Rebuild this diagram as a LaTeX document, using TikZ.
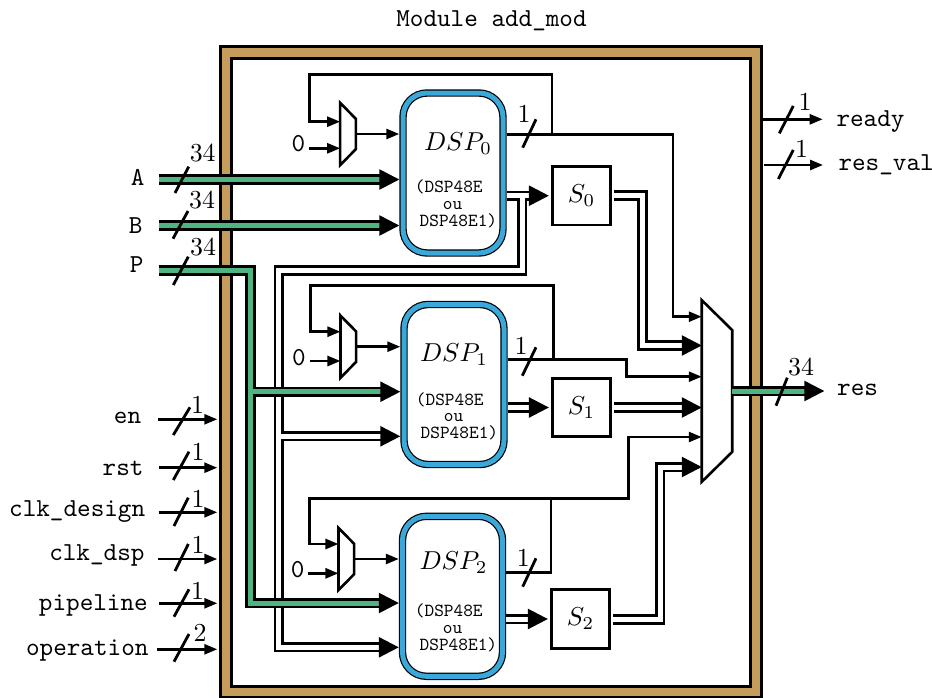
\documentclass[tikz,border=0pt]{standalone}
\usepackage{tikz}
\usetikzlibrary{arrows.meta}
\definecolor{framebrown}{HTML}{C69C5C}
\definecolor{busgreen}{HTML}{4FB47F}
\definecolor{dspblue}{HTML}{3AA9D9}
\tikzset{
  txt/.style={inner sep=0pt,scale=2.6},
  port/.style={inner sep=0pt,scale=2.6,font=\ttfamily},
  tiny/.style={inner sep=0pt,scale=1.85,font=\ttfamily,align=left},
  wire/.style={line width=2.6bp},
  wirearrow/.style={wire,-{Triangle[length=13bp,width=10bp]}},
  slash/.style={line width=2.8bp},
  bus/.style={line width=2.6bp,double=white,double distance=5bp,-{Triangle[length=20bp,width=20bp]}},
  greenbus/.style={bus,double=busgreen},
  dsp/.style={draw,fill=white,rounded corners=24bp,line width=1.2bp,double=dspblue,double distance=5bp,outer sep=3.7bp,minimum width=100bp,minimum height=160bp},
  block/.style={draw,fill=white,line width=2.6bp,minimum width=22.5bp,minimum height=22.5bp,inner sep=0pt,scale=2.6},
  muxbox/.style={inner sep=0pt,outer sep=0pt},
  smallmux/.style={muxbox,minimum width=15.7bp,minimum height=62.3bp},
  muxline/.style={draw,fill=white,line width=2.6bp,line join=miter}
}
\begin{document}
\begin{tikzpicture}
\useasboundingbox (0bp,0bp) rectangle (932bp,-698bp);

\node (FRAME) at (490.75bp,-371.5bp)[draw,fill=framebrown,line width=3bp,minimum width=540.5bp,minimum height=651bp] {};
\node (INNER) at (491bp,-372.25bp)[draw,fill=white,line width=3bp,minimum width=519bp,minimum height=628.5bp] {};
\node (TITLE) at (491.5bp,-26.7bp)[port,anchor=base] {Module add\_mod};

% blocks
\node (DSP0) at (453bp,-173bp)[dsp] {};
\node (DSP1) at (454bp,-384.5bp)[dsp] {};
\node (DSP2) at (452.5bp,-596.3bp)[dsp] {};
\node (DSP0name) at (458bp,-144bp)[txt] {$DSP_0$};
\node (DSP1name) at (454bp,-355bp)[txt] {$DSP_1$};
\node (DSP2name) at (453.5bp,-563bp)[txt] {$DSP_2$};
\node (DSP0type) at (456bp,-203.7bp)[tiny] {(DSP48E\\[-2.9pt]\hspace*{15.2pt}ou\\[-2.9pt]\hspace*{2.6pt}DSP48E1)};
\node (DSP1type) at (457bp,-416.3bp)[tiny] {(DSP48E\\[-2.9pt]\hspace*{15.2pt}ou\\[-2.9pt]\hspace*{2.6pt}DSP48E1)};
\node (DSP2type) at (456bp,-627.8bp)[tiny] {(DSP48E\\[-2.9pt]\hspace*{15.2pt}ou\\[-2.9pt]\hspace*{2.6pt}DSP48E1)};
\node (S0) at (581.5bp,-195.7bp)[block] {$S_0$};
\node (S1) at (581.5bp,-407.5bp)[block] {$S_1$};
\node (S2) at (580.5bp,-619bp)[block] {$S_2$};
\node (M0) at (348bp,-134bp)[smallmux] {};
\node (M1) at (348.3bp,-346.7bp)[smallmux] {};
\node (M2) at (346.3bp,-559bp)[smallmux] {};
\node (MUX) at (717bp,-391bp)[muxbox,minimum width=30.5bp,minimum height=181.7bp] {};
\draw [muxline] (M0.north west) -- ++(15.7bp,-16bp) -- ++(0bp,-30.3bp) -- (M0.south west) -- cycle;
\draw [muxline] (M1.north west) -- ++(15.7bp,-16bp) -- ++(0bp,-30.3bp) -- (M1.south west) -- cycle;
\draw [muxline] (M2.north west) -- ++(15.7bp,-16bp) -- ++(0bp,-30.3bp) -- (M2.south west) -- cycle;
\draw [muxline] (MUX.north west) -- ++(30.5bp,-30bp) -- ++(0bp,-121.7bp) -- (MUX.south west) -- cycle;

% left ports
\node (A) at (145bp,-185.7bp)[port,anchor=base east] {A};
\node (B) at (143bp,-233.3bp)[port,anchor=base east] {B};
\node (P) at (144bp,-272.3bp)[port,anchor=base east] {P};
\node (en) at (141.7bp,-423.3bp)[port,anchor=base east] {en};
\node (rst) at (144bp,-475bp)[port,anchor=base east] {rst};
\node (clkdesign) at (145.7bp,-516.7bp)[port,anchor=base east] {clk\_design};
\node (clkdsp) at (145bp,-560.7bp)[port,anchor=base east] {clk\_dsp};
\node (pipeline) at (148.3bp,-610bp)[port,anchor=base east] {pipeline};
\node (operation) at (149bp,-655bp)[port,anchor=base east] {operation};
\coordinate (Apin) at (159bp,-179.5bp);
\coordinate (Bpin) at (159bp,-225.5bp);
\coordinate (Ppin) at (159bp,-270.5bp);
\coordinate (enpin) at (158.3bp,-419.3bp);
\coordinate (rstpin) at (158.6bp,-467.7bp);
\coordinate (designpin) at (158.6bp,-512.3bp);
\coordinate (dsppin) at (158bp,-559bp);
\coordinate (pipepin) at (158.6bp,-603.3bp);
\coordinate (oppin) at (156.7bp,-649.3bp);
\coordinate (enend) at (217.3bp,-419.3bp);
\coordinate (rstend) at (217.3bp,-467.7bp);
\coordinate (designend) at (217.3bp,-512.3bp);
\coordinate (dspend) at (217.3bp,-559bp);
\coordinate (pipeend) at (217.3bp,-603.3bp);
\coordinate (opend) at (217.3bp,-649.3bp);
\draw [wirearrow] (enpin) -- (enend);
\draw [wirearrow] (rstpin) -- (rstend);
\draw [wirearrow] (designpin) -- (designend);
\draw [wirearrow] (dsppin) -- (dspend);
\draw [wirearrow] (pipepin) -- (pipeend);
\draw [wirearrow] (oppin) -- (opend);

% right ports
\node (ready) at (836bp,-126bp)[port,anchor=base west] {ready};
\node (resval) at (838bp,-170.7bp)[port,anchor=base west] {res\_val};
\node (res) at (836.7bp,-395bp)[port,anchor=base west] {res};
\coordinate (readyin) at (762.7bp,-119.3bp);
\coordinate (readyend) at (822.7bp,-119.3bp);
\coordinate (valin) at (763.5bp,-165bp);
\coordinate (valend) at (823bp,-165bp);
\coordinate (resend) at (824.3bp,-391bp);
\draw [wirearrow] (readyin) -- (readyend);
\draw [wirearrow] (valin) -- (valend);

% shared result bus
\coordinate (Rdown) at (522bp,-197.5bp);
\coordinate (Rleft) at (522bp,-270.5bp);
\coordinate (Rcorner) at (278.7bp,-270.5bp);
\coordinate (Rbottom) at (278.7bp,-647.3bp);
\coordinate (Rbranch) at (281bp,-436.3bp);
\draw [bus] (DSP0.east |- S0) -- (S0.west);
\draw [bus] (DSP1.east |- S1) -- (S1.west);
\draw [bus] (DSP2.east |- S2) -- (S2.west);
\draw [bus] (Rdown) -- (Rleft) -- (Rcorner) -- (Rbottom) -- (DSP2.west |- Rbottom);
\draw [bus] (Rbranch) -- (DSP1.west |- Rbranch);

% input buses
\coordinate (Pdown) at (250.5bp,-603bp);
\coordinate (Pbranch) at (252.5bp,-391.7bp);
\draw [greenbus] (Apin) -- (DSP0.west |- Apin);
\draw [greenbus] (Bpin) -- (DSP0.west |- Bpin);
\draw [greenbus] (Ppin) -| (Pdown) -- (DSP2.west |- Pdown);
\draw [greenbus] (Pbranch) -- (DSP1.west |- Pbranch);

% mux 0 inputs
\coordinate (F0) at (552bp,-134.3bp);
\coordinate (T0) at (309.5bp,-74.5bp);
\coordinate (M0a) at (330bp,-121.7bp);
\coordinate (Z0pin) at (309bp,-148.3bp);
\coordinate (G0) at (673bp,-134.3bp);
\coordinate (Min1) at (690bp,-316.7bp);
\node (Z0) at (298.3bp,-144bp)[port] {0};
\draw [wirearrow] (F0) |- (T0) |- (M0.west |- M0a);
\draw [wirearrow] (Z0pin) -- (M0.west |- Z0pin);
\draw [wirearrow] (M0.east) -- (DSP0.west |- M0);
\draw [wirearrow] (DSP0.east |- G0) -- (G0) |- (MUX.west |- Min1);

% mux 1 inputs
\coordinate (F1) at (553.3bp,-359.3bp);
\coordinate (T1) at (310.7bp,-285.7bp);
\coordinate (M1a) at (330bp,-331.7bp);
\coordinate (Z1pin) at (310bp,-361bp);
\coordinate (G1) at (626.7bp,-359.3bp);
\coordinate (Min3) at (690bp,-376.7bp);
\node (Z1) at (299bp,-357.3bp)[port] {0};
\draw [wirearrow] (F1) |- (T1) |- (M1.west |- M1a);
\draw [wirearrow] (Z1pin) -- (M1.west |- Z1pin);
\draw [wirearrow] (M1.east) -- (DSP1.west |- M1);
\draw [wirearrow] (DSP1.east |- G1) -- (G1) |- (MUX.west |- Min3);

% mux 2 inputs
\coordinate (F2) at (551bp,-572.7bp);
\coordinate (J2) at (551bp,-498.5bp);
\coordinate (T2) at (309.5bp,-498.5bp);
\coordinate (G2) at (628.3bp,-498.5bp);
\coordinate (M2a) at (330bp,-544bp);
\coordinate (Z2pin) at (308.3bp,-573.3bp);
\coordinate (Min5) at (690bp,-437bp);
\node (Z2) at (297.7bp,-569.3bp)[port] {0};
\draw [wire] (DSP2.east |- F2) -- (F2) -- (J2);
\draw [wirearrow] (J2) -- (T2) |- (M2.west |- M2a);
\draw [wirearrow] (Z2pin) -- (M2.west |- Z2pin);
\draw [wirearrow] (M2.east) -- (DSP2.west |- M2);
\draw [wirearrow] (J2) -- (G2) |- (MUX.west |- Min5);

% block outputs
\coordinate (H0) at (642.5bp,-195.5bp);
\coordinate (Min2) at (690bp,-345.5bp);
\coordinate (H2) at (660bp,-619.5bp);
\coordinate (Min6) at (690bp,-467bp);
\draw [bus] (S0.east |- H0) -- (H0) |- (MUX.west |- Min2);
\draw [bus] (S1.east) -- (MUX.west |- S1);
\draw [bus] (S2.east |- H2) -- (H2) |- (MUX.west |- Min6);
\draw [greenbus] (MUX.east) -- (resend);

% bus widths
\draw [slash] (175bp,-193bp) -- (188.7bp,-166.7bp);
\draw [slash] (173bp,-238.7bp) -- (188bp,-211bp);
\draw [slash] (173.3bp,-285bp) -- (188.3bp,-256.7bp);
\draw [slash] (173.3bp,-435bp) -- (190bp,-407.3bp);
\draw [slash] (173.3bp,-480bp) -- (189bp,-451.7bp);
\draw [slash] (174bp,-526bp) -- (188.3bp,-497.7bp);
\draw [slash] (175bp,-571bp) -- (188.3bp,-544bp);
\draw [slash] (174bp,-616.7bp) -- (189bp,-589.3bp);
\draw [slash] (174bp,-661.7bp) -- (189bp,-634bp);
\draw [slash] (522.7bp,-147.7bp) -- (536bp,-119.3bp);
\draw [slash] (522.3bp,-375.7bp) -- (536bp,-347.3bp);
\draw [slash] (522.7bp,-586.7bp) -- (536bp,-558.3bp);
\draw [slash] (776bp,-405.7bp) -- (787.3bp,-377.7bp);
\draw [slash] (779.3bp,-133.3bp) -- (793.3bp,-106bp);
\draw [slash] (778.3bp,-179bp) -- (793.3bp,-150bp);
\node (wA) at (202.7bp,-153bp)[txt] {$34$};
\node (wB) at (202bp,-200.5bp)[txt] {$34$};
\node (wP) at (203bp,-247bp)[txt] {$34$};
\node (wen) at (197.7bp,-405bp)[txt] {$1$};
\node (wrst) at (198bp,-451.7bp)[txt] {$1$};
\node (wdesign) at (198bp,-499.3bp)[txt] {$1$};
\node (wdsp) at (198bp,-545bp)[txt] {$1$};
\node (wpipe) at (197.7bp,-590.7bp)[txt] {$1$};
\node (wop) at (200bp,-632.7bp)[txt] {$2$};
\node (wD0) at (524bp,-114bp)[txt] {$1$};
\node (wD1) at (521bp,-346bp)[txt] {$1$};
\node (wD2) at (523.3bp,-558bp)[txt] {$1$};
\node (wres) at (801bp,-367.3bp)[txt] {$34$};
\node (wready) at (805bp,-101.7bp)[txt] {$1$};
\node (wval) at (801.7bp,-149.3bp)[txt] {$1$};
\end{tikzpicture}
\end{document}
